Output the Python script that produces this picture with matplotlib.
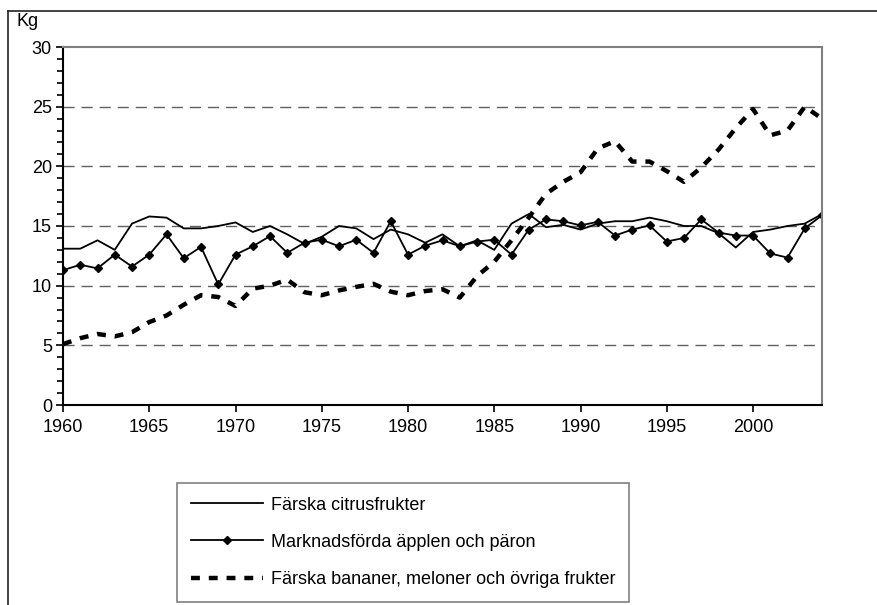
import numpy as np
import matplotlib.pyplot as plt
from matplotlib.lines import Line2D
from matplotlib.ticker import MultipleLocator

plt.rcParams['font.family'] = ['Liberation Sans', 'DejaVu Sans']
fontsize = 13

years = list(range(1960, 2005))

citrus = [13.1, 13.1, 13.8, 13.0, 15.2, 15.8, 15.7, 14.8, 14.8, 15.0,
          15.3, 14.5, 15.0, 14.3, 13.5, 14.1, 15.0, 14.8, 13.9, 14.7,
          14.3, 13.6, 14.3, 13.3, 13.8, 13.0, 15.2, 16.0, 14.9, 15.1,
          14.7, 15.2, 15.4, 15.4, 15.7, 15.4, 15.0, 15.0, 14.4, 13.2,
          14.5, 14.7, 15.0, 15.2, 16.0]

apples = [11.3, 11.75, 11.45, 12.6, 11.6, 12.6, 14.3, 12.3, 13.25, 10.1,
          12.6, 13.3, 14.15, 12.75, 13.6, 13.85, 13.3, 13.85, 12.75, 15.4,
          12.6, 13.35, 13.8, 13.3, 13.7, 13.85, 12.6, 14.7, 15.55, 15.4,
          15.05, 15.35, 14.2, 14.7, 15.05, 13.7, 14.0, 15.55, 14.45, 14.2,
          14.2, 12.7, 12.35, 14.8, 15.9]

bananas = [5.1, 5.6, 5.95, 5.75, 6.1, 6.95, 7.5, 8.4, 9.2, 9.05,
           8.3, 9.75, 10.0, 10.5, 9.45, 9.2, 9.6, 9.9, 10.15, 9.5,
           9.2, 9.55, 9.7, 9.0, 10.8, 12.0, 13.8, 15.7, 17.7, 18.7,
           19.5, 21.5, 22.1, 20.4, 20.4, 19.6, 18.7, 19.9, 21.4, 23.2,
           24.8, 22.6, 23.0, 25.0, 24.0]

labels = ['Färska citrusfrukter',
          'Marknadsförda äpplen och päron',
          'Färska bananer, meloner och övriga frukter']

fig = plt.figure(figsize=(8.77, 6.05), dpi=100)
ax = fig.add_axes([63/877, 1 - 405/605, (822 - 63)/877, (405 - 47)/605])

ax.plot(years, citrus, color='black', lw=1.3, label=labels[0])
ax.plot(years, apples, color='black', lw=1.3, marker='D', ms=3.8, label=labels[1])
l3, = ax.plot(years, bananas, color='black', lw=3.2, label=labels[2])
l3.set_dashes((2, 2))

ax.set_xlim(1960, 2004)
ax.set_ylim(0, 30)
ax.set_xticks(range(1960, 2005, 5))
ax.set_yticks(range(0, 31, 5))
ax.yaxis.set_minor_locator(MultipleLocator(1))
ax.tick_params(labelsize=fontsize, direction='out', length=5, width=1.2, color='black')
ax.tick_params(axis='y', which='minor', direction='out', length=4, width=1.2)
ax.tick_params(axis='x', pad=5)
ax.tick_params(axis='y', pad=3)

for v in range(5, 30, 5):
    ax.axhline(v, color='#606060', lw=1, dashes=(8, 5), zorder=0)

ax.spines['top'].set_color('#808080')
ax.spines['right'].set_color('#808080')
for s in ['top', 'right', 'left', 'bottom']:
    ax.spines[s].set_linewidth(1.5)

fig.text(17/877, 1 - 21/605, 'Kg', fontsize=fontsize, va='center', ha='left')

leg = ax.legend(loc='upper left', bbox_to_anchor=(177/877, 1 - 483/605),
                bbox_transform=fig.transFigure, fontsize=fontsize, frameon=True,
                fancybox=False, handlelength=4.0, handletextpad=0.45,
                labelspacing=1.12, borderpad=0.75, borderaxespad=0)
leg.get_frame().set_edgecolor('#606060')
leg.get_frame().set_linewidth(1.2)

# outer chart border (only top and left are visible)
fig.add_artist(Line2D([8/877, 1], [1 - 11/605, 1 - 11/605], color='#222222', lw=1.2,
                      transform=fig.transFigure))
fig.add_artist(Line2D([8/877, 8/877], [0, 1 - 11/605], color='#222222', lw=1.2,
                      transform=fig.transFigure))

plt.savefig('out.png', dpi=100)
